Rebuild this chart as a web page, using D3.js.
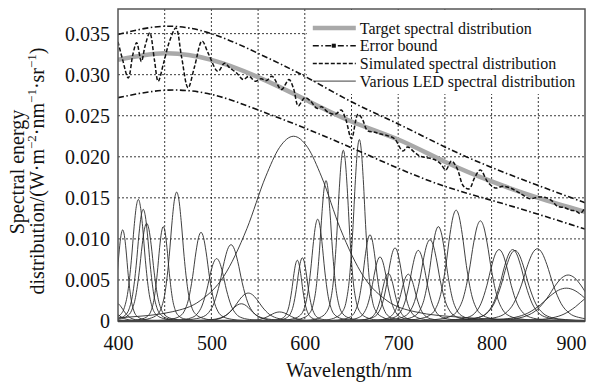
<!DOCTYPE html>
<html>
<head>
<meta charset="utf-8">
<script src="https://cdn.jsdelivr.net/npm/d3@7"></script>
<style>
  body { margin: 0; background: #fff; }
  svg text { font-family: "Liberation Serif", "Times New Roman", serif; fill: #111; }
</style>
</head>
<body>
<svg id="chart" width="594" height="385"></svg>
<script>
// ---- data ----
var wl = [400, 450, 500, 550, 600, 650, 700, 750, 800, 850, 900];
var target = [0.0318, 0.0326, 0.0318, 0.0297, 0.0270, 0.0243, 0.0221, 0.0194, 0.0170, 0.0150, 0.0133];
var upperBound = [0.0349, 0.0359, 0.0350, 0.0326, 0.0298, 0.0267, 0.0240, 0.0212, 0.0187, 0.0165, 0.0144];
var lowerBound = [0.0272, 0.0281, 0.0276, 0.0257, 0.0235, 0.0211, 0.0186, 0.0164, 0.0147, 0.0130, 0.0112];

var simWl = [400, 405, 411, 416, 420, 425, 429, 434, 439, 443, 449, 455, 462, 468, 475, 482, 490, 497, 507, 514,
  520, 527, 534, 540, 547, 553, 559, 565, 575, 583, 588, 593, 600, 606, 613, 618, 625, 633, 639, 644,
  650, 657, 662, 667, 675, 680, 688, 696, 705, 710, 717, 723, 730, 738, 745, 751, 757, 763, 770, 776,
  782, 788, 796, 804, 812, 820, 830, 841, 850, 859, 865, 870, 878, 885, 890, 895, 900];
var simulated = [0.0340, 0.0318, 0.0296, 0.0325, 0.0339, 0.0316, 0.0335, 0.0351, 0.0318, 0.0292, 0.0315, 0.0340, 0.0357, 0.0322, 0.0284, 0.0310, 0.0341, 0.0325, 0.0304, 0.0314,
  0.0308, 0.0302, 0.0294, 0.0298, 0.0292, 0.0295, 0.0293, 0.0298, 0.0282, 0.0294, 0.0283, 0.0262, 0.0272, 0.0268, 0.0259, 0.0261, 0.0254, 0.0252, 0.0257, 0.0245,
  0.0222, 0.0252, 0.0245, 0.0232, 0.0230, 0.0228, 0.0226, 0.0222, 0.0207, 0.0212, 0.0206, 0.0201, 0.0199, 0.0197, 0.0192, 0.0184, 0.0195, 0.0186, 0.0164, 0.0161,
  0.0175, 0.0184, 0.0169, 0.0162, 0.0164, 0.0162, 0.0156, 0.0149, 0.0151, 0.0150, 0.0146, 0.0140, 0.0138, 0.0135, 0.0134, 0.0131, 0.0138];

// LEDs: peak wavelength (nm), peak value, full width at half max (nm)
var ledPeak = [392, 398, 405, 421.8, 427, 430.7, 448.5, 462.8, 488.9, 505.6, 521, 532, 539.5, 573, 588,
  592, 597.4, 613.8, 622.7, 641.2, 658.4, 669.8, 680.5, 689.4, 696.6, 710.8, 721.5, 734, 743, 762,
  788, 808, 822.6, 825, 849, 880, 882, 915];
var ledHeight = [0.0012, 0.0022, 0.0111, 0.0148, 0.0136, 0.0119, 0.0115, 0.0157, 0.0108, 0.0076, 0.0093, 0.0021, 0.0034, 0.0011, 0.0225,
  0.0074, 0.0077, 0.0124, 0.0171, 0.0208, 0.0221, 0.0105, 0.0078, 0.0058, 0.0089, 0.0057, 0.0086, 0.0099, 0.0115, 0.0135,
  0.0122, 0.0087, 0.0087, 0.0086, 0.0088, 0.0040, 0.0056, 0.0035];
var ledWidth = [20, 18, 12, 15, 15, 16, 13, 16, 18, 21, 24, 25, 30, 25, 100,
  12, 13, 15, 14, 14, 14, 16, 18, 16, 18, 18, 20, 22, 20, 22,
  24, 26, 28, 30, 34, 55, 45, 50];
// shape of one LED line, offset in widths / relative value
var profOffset = [-3.5, -2.5, -1.8, -1.3, -1, -0.75, -0.5, -0.3, -0.15, 0, 0.15, 0.3, 0.5, 0.75, 1, 1.3, 1.8, 2.5, 3.5];
var profValue = [0, 0.006, 0.02, 0.05, 0.11, 0.24, 0.5, 0.78, 0.94, 1, 0.94, 0.78, 0.5, 0.24, 0.11, 0.05, 0.02, 0.006, 0];

var xTicks = [400, 500, 600, 700, 800, 900];
var yTicks = [0, 0.005, 0.010, 0.015, 0.020, 0.025, 0.030, 0.035];
var yTickLabels = ["0", "0.005", "0.010", "0.015", "0.020", "0.025", "0.030", "0.035"];
var legendNames = ["Target spectral distribution", "Error bound", "Simulated spectral distribution", "Various LED spectral distribution"];

// ---- layout ----
var margin = {top: 9, right: 9, bottom: 64, left: 118};
var width = 594 - margin.left - margin.right;
var height = 385 - margin.top - margin.bottom;

var svg = d3.select("#chart");
var g = svg.append("g").attr("transform", "translate(" + margin.left + "," + margin.top + ")");

var x = d3.scaleLinear().domain([400, 900]).range([0, width]);
var y = d3.scaleLinear().domain([0, 0.038]).range([height, 0]);

g.append("defs").append("clipPath").attr("id", "plotclip")
  .append("rect").attr("width", width).attr("height", height);

// grid
var grid = g.append("g").attr("class", "grid");
grid.selectAll(".vg").data(d3.range(450, 900, 50)).enter().append("line")
  .attr("x1", d => x(d)).attr("x2", d => x(d)).attr("y1", 0).attr("y2", height)
  .attr("stroke", "#222").attr("stroke-width", 0.9).attr("stroke-dasharray", "2,2");
grid.selectAll(".hg").data(yTicks.slice(1)).enter().append("line")
  .attr("x1", 0).attr("x2", width).attr("y1", d => y(d)).attr("y2", d => y(d))
  .attr("stroke", "#222").attr("stroke-width", 0.9).attr("stroke-dasharray", "2,2");

// legend background (covers grid)
var lg = g.append("g").attr("transform", "translate(" + (x(600) + 2) + ",0)");
lg.append("rect").attr("x", 0).attr("y", 1).attr("width", width - x(600) - 3).attr("height", 84).attr("fill", "#fff");

var plot = g.append("g").attr("clip-path", "url(#plotclip)");

// LED spectra
var ledLine = d3.line().x(d => x(d[0])).y(d => y(d[1])).curve(d3.curveMonotoneX);
var leds = ledPeak.map(function(p, i) {
  return profOffset.map(function(o, j) { return [p + o * ledWidth[i], ledHeight[i] * profValue[j]]; });
});
plot.selectAll(".led").data(leds).enter().append("path")
  .attr("d", ledLine).attr("fill", "none").attr("stroke", "#2a2a2a").attr("stroke-width", 0.9);

// target
var smooth = d3.line().x((d, i) => x(wl[i])).y(d => y(d)).curve(d3.curveNatural);
plot.append("path").datum(target).attr("d", smooth)
  .attr("fill", "none").attr("stroke", "#a9a9a9").attr("stroke-width", 4.5);

// error bounds
[upperBound, lowerBound].forEach(function(b) {
  plot.append("path").datum(b).attr("d", smooth)
    .attr("fill", "none").attr("stroke", "#111").attr("stroke-width", 1.6)
    .attr("stroke-dasharray", "6,2.5,1.5,2.5");
});

// simulated
var simLine = d3.line().x((d, i) => x(simWl[i])).y(d => y(d)).curve(d3.curveCatmullRom);
plot.append("path").datum(simulated).attr("d", simLine)
  .attr("fill", "none").attr("stroke", "#111").attr("stroke-width", 1.5)
  .attr("stroke-dasharray", "4,2");

// frame
g.append("rect").attr("width", width).attr("height", height)
  .attr("fill", "none").attr("stroke", "#555").attr("stroke-width", 1.5);
g.append("line").attr("x1", 0).attr("x2", width).attr("y1", height).attr("y2", height)
  .attr("stroke", "#444").attr("stroke-width", 2.5);

// axes
var xAxis = g.append("g").attr("transform", "translate(0," + height + ")")
  .call(d3.axisBottom(x).tickValues(xTicks).tickSize(0).tickPadding(15).tickFormat(d3.format("d")));
var yAxis = g.append("g")
  .call(d3.axisLeft(y).tickValues(yTicks).tickSize(0).tickPadding(8).tickFormat((d, i) => yTickLabels[i]));
[xAxis, yAxis].forEach(function(a) {
  a.select(".domain").remove();
  a.selectAll("text").attr("font-family", "Liberation Serif, Times New Roman, serif").attr("font-size", 20).attr("fill", "#111");
});
xAxis.selectAll("text").attr("dy", "0.71em");
// last label sits flush with the right edge
xAxis.selectAll("text").filter(d => d === 900).attr("text-anchor", "end").attr("x", 1);

// axis titles
svg.append("text").attr("x", 349).attr("y", 377).attr("text-anchor", "middle")
  .attr("font-size", 20).text("Wavelength/nm");
var yt = svg.append("text").attr("transform", "translate(24,172) rotate(-90)")
  .attr("text-anchor", "middle").attr("font-size", 20);
yt.append("tspan").attr("x", 0).attr("y", 0).text("Spectral energy");
var yt2 = svg.append("text").attr("transform", "translate(44,171) rotate(-90)")
  .attr("text-anchor", "middle").attr("font-size", 20);
yt2.append("tspan").text("distribution/(W·m");
yt2.append("tspan").attr("dy", -8).attr("font-size", 13).text("−2");
yt2.append("tspan").attr("dy", 8).text("·nm");
yt2.append("tspan").attr("dy", -8).attr("font-size", 13).text("−1");
yt2.append("tspan").attr("dy", 8).text("·sr");
yt2.append("tspan").attr("dy", -8).attr("font-size", 13).text("−1");
yt2.append("tspan").attr("dy", 8).text(")");

// legend
var item = lg.selectAll(".item").data(legendNames).enter().append("g")
  .attr("transform", (d, i) => "translate(6," + (19 + i * 17.7) + ")");
item.append("text").attr("x", 47).attr("y", 5.5).attr("font-size", 16).text(d => d);
item.each(function(d, i) {
  var s = d3.select(this).append("line").attr("x1", 0).attr("x2", 43).attr("y1", 0).attr("y2", 0).attr("fill", "none");
  if (i === 0) s.attr("stroke", "#a9a9a9").attr("stroke-width", 4.5);
  if (i === 1) {
    s.attr("stroke", "#111").attr("stroke-width", 1.6).attr("stroke-dasharray", "6,2.5,1.5,2.5");
    d3.select(this).append("rect").attr("x", 19).attr("y", -2).attr("width", 4).attr("height", 4).attr("fill", "#111");
  }
  if (i === 2) s.attr("stroke", "#111").attr("stroke-width", 1.5).attr("stroke-dasharray", "4,2");
  if (i === 3) s.attr("stroke", "#2a2a2a").attr("stroke-width", 0.9);
});
</script>
</body>
</html>
